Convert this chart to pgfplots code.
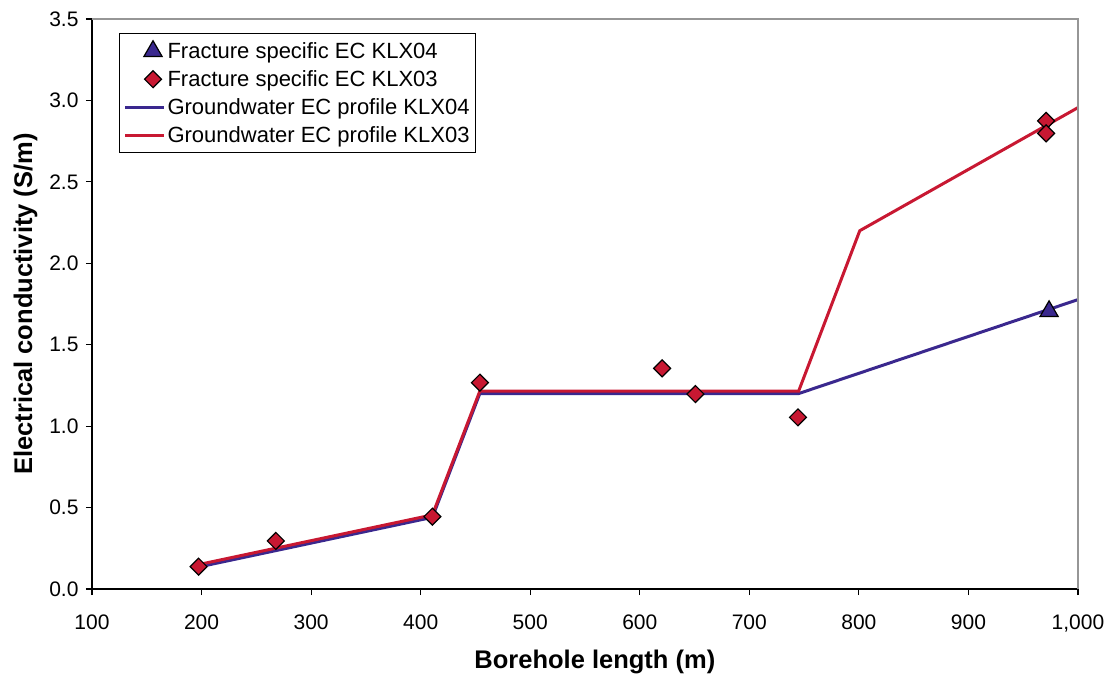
\documentclass[border=0pt]{standalone}
\usepackage{fontspec}
\setmainfont{Liberation Sans}
\usepackage{pgfplots}
\pgfplotsset{compat=1.18}

\definecolor{ecred}{RGB}{200,24,50}
\definecolor{ecblue}{RGB}{58,40,142}
\definecolor{framegray}{RGB}{150,150,150}

% marker-only legend entries: mark placed right of the sample centre
\pgfplotsset{mark legend/.style={legend image code/.code={%
    \path[draw=none, fill=none] (0pt,0pt) -- (39pt,0pt);
    \draw[##1] plot coordinates {(28pt,0pt)};}}}

\begin{document}
\begin{tikzpicture}
\useasboundingbox (-92pt,-86pt) rectangle (1023pt,589pt);
\begin{axis}[
  at={(0,0)}, anchor=south west,
  width=986pt, height=570pt, scale only axis,
  xmin=100, xmax=1000, ymin=0, ymax=3.5,
  xtick={100,200,...,1000},
  ytick={0,0.5,...,3.5},
  axis x line*=bottom, axis y line*=left,
  axis line style={black, line width=1.3pt},
  tick align=outside, major tick length=6pt,
  tick style={black, line width=1.1pt},
  /pgf/number format/assume math mode=true,
  x tick label style={/pgf/number format/1000 sep={,}},
  y tick label style={/pgf/number format/fixed,
    /pgf/number format/fixed zerofill, /pgf/number format/precision=1},
  ticklabel style={font=\fontsize{21}{25}\selectfont},
  xticklabel style={anchor=base, yshift=-34pt},
  yticklabel style={xshift=-4pt},
  xlabel={Borehole length (m)},
  ylabel={Electrical conductivity (S/m)},
  label style={font=\fontsize{25.5}{30}\selectfont\bfseries},
  xlabel style={at={(axis description cs:0.510,-0.1386)}, anchor=base},
  ylabel style={at={(axis description cs:-0.0608,0.5)}, anchor=base},
  legend style={
    at={(axis description cs:0.0274,0.9754)}, anchor=north west,
    draw=black, line width=1pt, fill=white,
    font=\fontsize{22}{26}\selectfont,
    inner xsep=4pt, inner ysep=7pt,
    row sep=6.5pt,
    cells={anchor=west},
  },
  legend image code/.code={%
    \draw[mark repeat=2, mark phase=2, #1]
      plot coordinates {(0pt,0pt) (19.5pt,0pt) (39pt,0pt)};},
  clip=false,
]
% groundwater EC profiles (drawn beneath the fracture data)
\addplot[ecblue, line width=3pt, forget plot] coordinates {
  (197.3,0.135) (410.7,0.440) (454.0,1.200) (745.0,1.200) (1000,1.777)};
\addplot[ecred, line width=3pt, forget plot] coordinates {
  (197.3,0.150) (410.7,0.455) (454.0,1.215) (745.0,1.215) (800.8,2.200) (1000,2.956)};

% fracture specific EC
\addplot[only marks, mark=triangle*, mark size=10.5pt, mark legend,
  mark options={fill=ecblue, draw=black, line width=1.2pt}] coordinates {
  (973.6,1.705)};
\addlegendentry{Fracture specific EC KLX04}
\addplot[only marks, mark=square*, mark size=6pt, mark legend,
  mark options={fill=ecred, draw=black, line width=1.2pt, rotate=45}] coordinates {
  (197.3,0.137) (267.8,0.295) (410.7,0.444) (454.1,1.267) (620.4,1.355)
  (650.8,1.197) (744.4,1.054) (970.9,2.874) (970.9,2.798)};
\addlegendentry{Fracture specific EC KLX03}

\addlegendimage{ecblue, line width=3pt}
\addlegendentry{Groundwater EC profile KLX04}
\addlegendimage{ecred, line width=3pt}
\addlegendentry{Groundwater EC profile KLX03}

% light frame on the top and right sides of the plot area
\draw[framegray, line width=1.3pt] (rel axis cs:0,1) -- (rel axis cs:1,1) -- (rel axis cs:1,0);
\end{axis}
\end{tikzpicture}
\end{document}
